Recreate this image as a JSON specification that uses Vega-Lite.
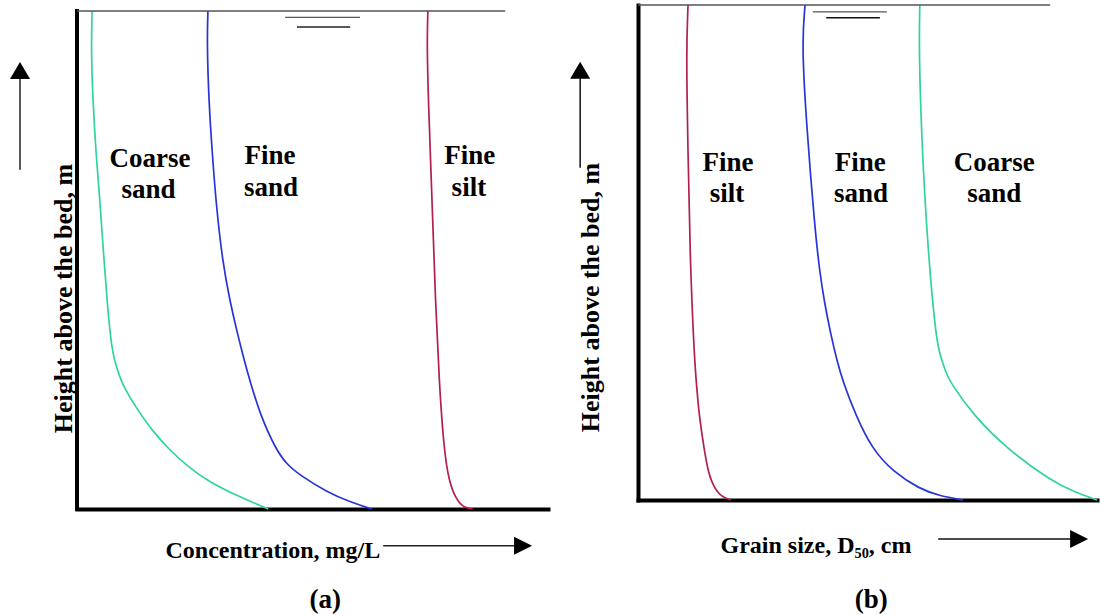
{
  "$schema": "https://vega.github.io/schema/vega-lite/v6.json",
  "background": "white",
  "padding": {"left": 10, "top": 1, "right": 2, "bottom": 5},
  "bounds": "flush",
  "spacing": 90,
  "config": {"view": {"stroke": null}, "text": {"font": "Liberation Serif, DejaVu Serif, serif"}},
  "datasets": {
    "curvesA": [
      {"sediment": "Coarse sand", "h": 100, "v": 3.2}, {"sediment": "Coarse sand", "h": 91.8, "v": 3.0}, {"sediment": "Coarse sand", "h": 81.7, "v": 3.4},
      {"sediment": "Coarse sand", "h": 71.7, "v": 4.0}, {"sediment": "Coarse sand", "h": 61.6, "v": 4.9}, {"sediment": "Coarse sand", "h": 51.6, "v": 5.6},
      {"sediment": "Coarse sand", "h": 41.6, "v": 6.4}, {"sediment": "Coarse sand", "h": 33.5, "v": 7.2}, {"sediment": "Coarse sand", "h": 29.5, "v": 8.0},
      {"sediment": "Coarse sand", "h": 25.5, "v": 9.4}, {"sediment": "Coarse sand", "h": 22.0, "v": 11.5}, {"sediment": "Coarse sand", "h": 18.9, "v": 13.6},
      {"sediment": "Coarse sand", "h": 15.5, "v": 16.2}, {"sediment": "Coarse sand", "h": 12.0, "v": 19.5}, {"sediment": "Coarse sand", "h": 8.8, "v": 23.2},
      {"sediment": "Coarse sand", "h": 5.4, "v": 28.0}, {"sediment": "Coarse sand", "h": 2.4, "v": 34.6}, {"sediment": "Coarse sand", "h": 0, "v": 40.6},
      {"sediment": "Fine sand", "h": 100, "v": 27.8}, {"sediment": "Fine sand", "h": 93.8, "v": 27.6}, {"sediment": "Fine sand", "h": 81.7, "v": 28.0},
      {"sediment": "Fine sand", "h": 71.7, "v": 28.7}, {"sediment": "Fine sand", "h": 61.6, "v": 29.5}, {"sediment": "Fine sand", "h": 49.6, "v": 30.9},
      {"sediment": "Fine sand", "h": 41.6, "v": 32.5}, {"sediment": "Fine sand", "h": 35.5, "v": 34.0}, {"sediment": "Fine sand", "h": 29.5, "v": 35.6},
      {"sediment": "Fine sand", "h": 25.5, "v": 36.8}, {"sediment": "Fine sand", "h": 18.9, "v": 38.9}, {"sediment": "Fine sand", "h": 12.0, "v": 42.2},
      {"sediment": "Fine sand", "h": 9.0, "v": 44.5}, {"sediment": "Fine sand", "h": 6.8, "v": 47.3}, {"sediment": "Fine sand", "h": 3.4, "v": 53.1},
      {"sediment": "Fine sand", "h": 1.4, "v": 58.0}, {"sediment": "Fine sand", "h": 0, "v": 62.6},
      {"sediment": "Fine silt", "h": 100, "v": 74.5}, {"sediment": "Fine silt", "h": 93.8, "v": 74.3}, {"sediment": "Fine silt", "h": 81.7, "v": 74.6},
      {"sediment": "Fine silt", "h": 61.6, "v": 75.4}, {"sediment": "Fine silt", "h": 41.6, "v": 76.1}, {"sediment": "Fine silt", "h": 25.5, "v": 76.9},
      {"sediment": "Fine silt", "h": 12.0, "v": 77.9}, {"sediment": "Fine silt", "h": 5.4, "v": 79.0}, {"sediment": "Fine silt", "h": 2.0, "v": 80.5},
      {"sediment": "Fine silt", "h": 0.8, "v": 81.6}, {"sediment": "Fine silt", "h": 0.3, "v": 82.4}, {"sediment": "Fine silt", "h": 0, "v": 84.0}
    ],
    "curvesB": [
      {"sediment": "Fine silt", "h": 100, "v": 10.9}, {"sediment": "Fine silt", "h": 90.5, "v": 10.5}, {"sediment": "Fine silt", "h": 70.3, "v": 10.9},
      {"sediment": "Fine silt", "h": 50.1, "v": 11.3}, {"sediment": "Fine silt", "h": 29.9, "v": 12.2}, {"sediment": "Fine silt", "h": 23.8, "v": 12.7},
      {"sediment": "Fine silt", "h": 17.2, "v": 13.3}, {"sediment": "Fine silt", "h": 10.3, "v": 14.4}, {"sediment": "Fine silt", "h": 5.7, "v": 15.3},
      {"sediment": "Fine silt", "h": 3.6, "v": 16.1}, {"sediment": "Fine silt", "h": 1.6, "v": 17.2}, {"sediment": "Fine silt", "h": 0.5, "v": 18.6},
      {"sediment": "Fine silt", "h": 0, "v": 20.2},
      {"sediment": "Fine sand", "h": 100, "v": 36.4}, {"sediment": "Fine sand", "h": 92.5, "v": 35.7}, {"sediment": "Fine sand", "h": 77.0, "v": 36.6},
      {"sediment": "Fine sand", "h": 54.1, "v": 38.6}, {"sediment": "Fine sand", "h": 46.1, "v": 39.6}, {"sediment": "Fine sand", "h": 40.0, "v": 40.6},
      {"sediment": "Fine sand", "h": 33.9, "v": 41.9}, {"sediment": "Fine sand", "h": 27.9, "v": 43.4}, {"sediment": "Fine sand", "h": 23.8, "v": 44.7},
      {"sediment": "Fine sand", "h": 17.2, "v": 47.4}, {"sediment": "Fine sand", "h": 10.3, "v": 51.0}, {"sediment": "Fine sand", "h": 5.7, "v": 55.6},
      {"sediment": "Fine sand", "h": 2.2, "v": 61.4}, {"sediment": "Fine sand", "h": 0.8, "v": 65.8}, {"sediment": "Fine sand", "h": 0, "v": 70.8},
      {"sediment": "Coarse sand", "h": 100, "v": 61.4}, {"sediment": "Coarse sand", "h": 90.5, "v": 61.2}, {"sediment": "Coarse sand", "h": 70.3, "v": 61.9},
      {"sediment": "Coarse sand", "h": 50.1, "v": 63.2}, {"sediment": "Coarse sand", "h": 33.9, "v": 64.8}, {"sediment": "Coarse sand", "h": 29.9, "v": 65.6},
      {"sediment": "Coarse sand", "h": 25.9, "v": 67.0}, {"sediment": "Coarse sand", "h": 23.8, "v": 68.0}, {"sediment": "Coarse sand", "h": 17.2, "v": 73.0},
      {"sediment": "Coarse sand", "h": 10.3, "v": 80.4}, {"sediment": "Coarse sand", "h": 3.6, "v": 90.4}, {"sediment": "Coarse sand", "h": 1.6, "v": 95.2},
      {"sediment": "Coarse sand", "h": 0, "v": 100}
    ],
    "bedA": [{"v": 0, "v2": 0, "h": 0, "h2": 100}],
    "thinA": [{"v": 0, "v2": 90.9, "h": 100, "h2": 100}, {"v": 44.2, "v2": 60.1, "h": 98.7, "h2": 98.7}],
    "blackA": [{"v": 46.7, "v2": 58.0, "h": 96.8, "h2": 96.8}, {"v": 65.0, "v2": 93.5, "h": -7.4, "h2": -7.4}, {"v": -12.1, "v2": -12.1, "h": 68.1, "h2": 87.0}],
    "upA": [{"v": -12.1, "h": 88.05}],
    "rightA": [{"v": 94.7, "h": -7.4}],
    "labelsA": [
      {"label": "Coarse", "v": 15.5, "h": 68.7}, {"label": "sand", "v": 15.2, "h": 62.4},
      {"label": "Fine", "v": 41.0, "h": 69.3}, {"label": "sand", "v": 41.2, "h": 62.9},
      {"label": "Fine", "v": 83.4, "h": 69.3}, {"label": "silt", "v": 83.2, "h": 62.9}
    ],
    "captionA": [{"label": "(a)", "v": 52.7, "h": -19.9}],
    "thinB": [{"v": 0, "v2": 89.8, "h": 100, "h2": 100}, {"v": 38.1, "v2": 54.2, "h": 98.6, "h2": 98.6}],
    "blackB": [{"v": 41.0, "v2": 52.7, "h": 97.4, "h2": 97.4}, {"v": 65.4, "v2": 94.5, "h": -7.9, "h2": -7.9}, {"v": -12.6, "v2": -12.6, "h": 67.1, "h2": 85.5}],
    "upB": [{"v": -12.6, "h": 86.8}],
    "rightB": [{"v": 96.1, "h": -7.9}],
    "labelsB": [
      {"label": "Fine", "v": 19.6, "h": 66.5}, {"label": "silt", "v": 19.4, "h": 60.2},
      {"label": "Fine", "v": 48.4, "h": 66.5}, {"label": "sand", "v": 48.6, "h": 60.2},
      {"label": "Coarse", "v": 77.6, "h": 66.5}, {"label": "sand", "v": 77.6, "h": 60.2}
    ],
    "captionB": [{"label": "(b)", "v": 50.8, "h": -21.8}]
  },
  "hconcat": [
    {
      "width": 471,
      "height": 504,
      "encoding": {
        "x": {"field": "v", "type": "quantitative", "scale": {"domain": [0, 100], "nice": false, "zero": false},
          "axis": {"title": "Concentration, mg/L", "domain": true, "domainColor": "black", "domainWidth": 4, "domainCap": "square",
            "ticks": false, "labels": false, "grid": false, "titleX": 88, "titleY": 48, "titleAlign": "left", "titleBaseline": "alphabetic",
            "titleFont": "Liberation Serif, DejaVu Serif, serif", "titleFontSize": 24, "titleFontWeight": "bold", "titleColor": "black"}},
        "y": {"field": "h", "type": "quantitative", "scale": {"domain": [0, 101.2], "nice": false, "zero": false},
          "axis": {"title": "Height above the bed, m", "domain": false, "ticks": false, "labels": false, "grid": false,
            "titleX": -14, "titleY": 293, "titleAlign": "center", "titleBaseline": "middle", "titleAngle": 270,
            "titleFont": "Liberation Serif, DejaVu Serif, serif", "titleFontSize": 26, "titleFontWeight": "bold", "titleColor": "black"}}
      },
      "layer": [
        {"data": {"name": "curvesA"}, "mark": {"type": "line", "interpolate": "basis", "strokeWidth": 1.7, "clip": false},
          "encoding": {"color": {"field": "sediment", "type": "nominal", "scale": {"domain": ["Coarse sand", "Fine sand", "Fine silt"], "range": ["#2ed3a0", "#2635d8", "#b3204c"]}, "legend": null},
            "order": {"field": "h", "type": "quantitative"}}},
        {"data": {"name": "bedA"}, "mark": {"type": "rule", "strokeWidth": 4, "color": "black", "strokeCap": "square", "clip": false},
          "encoding": {"x2": {"field": "v2"}, "y2": {"field": "h2"}}},
        {"data": {"name": "thinA"}, "mark": {"type": "rule", "strokeWidth": 1.3, "color": "#555555", "clip": false},
          "encoding": {"x2": {"field": "v2"}, "y2": {"field": "h2"}}},
        {"data": {"name": "blackA"}, "mark": {"type": "rule", "strokeWidth": 1.5, "color": "#222222", "clip": false},
          "encoding": {"x2": {"field": "v2"}, "y2": {"field": "h2"}}},
        {"data": {"name": "upA"}, "mark": {"type": "point", "shape": "M0,-0.85L1,0.85L-1,0.85Z", "size": 400, "filled": true, "opacity": 1, "color": "black", "strokeWidth": 0, "clip": false}},
        {"data": {"name": "rightA"}, "mark": {"type": "point", "shape": "M0.9,0L-0.9,-0.9L-0.9,0.9Z", "size": 400, "filled": true, "opacity": 1, "color": "black", "strokeWidth": 0, "clip": false}},
        {"data": {"name": "labelsA"}, "mark": {"type": "text", "font": "Liberation Serif, DejaVu Serif, serif", "fontSize": 27, "fontWeight": "bold", "align": "center", "baseline": "alphabetic", "color": "black", "clip": false},
          "encoding": {"text": {"field": "label"}}},
        {"data": {"name": "captionA"}, "mark": {"type": "text", "font": "Liberation Serif, DejaVu Serif, serif", "fontSize": 27, "fontWeight": "bold", "align": "center", "baseline": "alphabetic", "color": "black", "clip": false},
          "encoding": {"text": {"field": "label"}}}
      ]
    },
    {
      "width": 459,
      "height": 495,
      "encoding": {
        "x": {"field": "v", "type": "quantitative", "scale": {"domain": [0, 100], "nice": false, "zero": false},
          "axis": {"title": "Grain size, D₅₀, cm", "domain": true, "domainColor": "black", "domainWidth": 4, "domainCap": "square",
            "ticks": false, "labels": false, "grid": false, "titleX": 82, "titleY": 52, "titleAlign": "left", "titleBaseline": "alphabetic",
            "titleFont": "Liberation Serif, DejaVu Serif, serif", "titleFontSize": 24, "titleFontWeight": "bold", "titleColor": "black"}},
        "y": {"field": "h", "type": "quantitative", "scale": {"domain": [0, 100], "nice": false, "zero": false},
          "axis": {"title": "Height above the bed, m", "domain": true, "domainColor": "black", "domainWidth": 4, "domainCap": "square",
            "ticks": false, "labels": false, "grid": false,
            "titleX": -48, "titleY": 292, "titleAlign": "center", "titleBaseline": "middle", "titleAngle": 270,
            "titleFont": "Liberation Serif, DejaVu Serif, serif", "titleFontSize": 26, "titleFontWeight": "bold", "titleColor": "black"}}
      },
      "layer": [
        {"data": {"name": "curvesB"}, "mark": {"type": "line", "interpolate": "basis", "strokeWidth": 1.7, "clip": false},
          "encoding": {"color": {"field": "sediment", "type": "nominal", "scale": {"domain": ["Coarse sand", "Fine sand", "Fine silt"], "range": ["#2ed3a0", "#2635d8", "#b3204c"]}, "legend": null},
            "order": {"field": "h", "type": "quantitative"}}},
        {"data": {"name": "thinB"}, "mark": {"type": "rule", "strokeWidth": 1.3, "color": "#555555", "clip": false},
          "encoding": {"x2": {"field": "v2"}, "y2": {"field": "h2"}}},
        {"data": {"name": "blackB"}, "mark": {"type": "rule", "strokeWidth": 1.5, "color": "#111111", "clip": false},
          "encoding": {"x2": {"field": "v2"}, "y2": {"field": "h2"}}},
        {"data": {"name": "upB"}, "mark": {"type": "point", "shape": "M0,-0.85L1,0.85L-1,0.85Z", "size": 400, "filled": true, "opacity": 1, "color": "black", "strokeWidth": 0, "clip": false}},
        {"data": {"name": "rightB"}, "mark": {"type": "point", "shape": "M0.9,0L-0.9,-0.9L-0.9,0.9Z", "size": 400, "filled": true, "opacity": 1, "color": "black", "strokeWidth": 0, "clip": false}},
        {"data": {"name": "labelsB"}, "mark": {"type": "text", "font": "Liberation Serif, DejaVu Serif, serif", "fontSize": 27, "fontWeight": "bold", "align": "center", "baseline": "alphabetic", "color": "black", "clip": false},
          "encoding": {"text": {"field": "label"}}},
        {"data": {"name": "captionB"}, "mark": {"type": "text", "font": "Liberation Serif, DejaVu Serif, serif", "fontSize": 27, "fontWeight": "bold", "align": "center", "baseline": "alphabetic", "color": "black", "clip": false},
          "encoding": {"text": {"field": "label"}}}
      ]
    }
  ]
}
